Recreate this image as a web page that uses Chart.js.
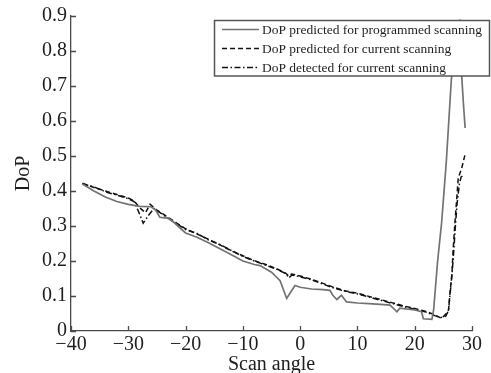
<!DOCTYPE html>
<html>
<head>
<meta charset="utf-8">
<script src="https://cdn.jsdelivr.net/npm/chart.js@4"></script>
<style>
  html, body { margin: 0; padding: 0; background: #fff; }
  #wrap { width: 491px; height: 373px; }
</style>
</head>
<body>
<div id="wrap"><canvas id="dop-chart" width="491" height="373"></canvas></div>
<script>
// DoP vs scan angle
const progX = [-38, -36, -34, -32, -30, -28, -26, -25.2, -24.5, -23, -22, -21, -20, -18, -16, -14, -12, -10, -8, -7, -5, -3.5, -2.35, -1.5, -0.9, 0, 2, 4, 5.2, 5.7, 6.4, 7.2, 8.1, 10, 12, 14, 15.7, 16.9, 17.4, 20, 21.2, 21.5, 23, 23.3, 24, 24.7, 25.5, 26.4, 27.9, 28.2, 28.5, 28.8];
const progY = [0.42, 0.40, 0.383, 0.37, 0.362, 0.356, 0.355, 0.345, 0.325, 0.322, 0.31, 0.295, 0.28, 0.268, 0.252, 0.235, 0.218, 0.2, 0.19, 0.187, 0.168, 0.144, 0.093, 0.115, 0.13, 0.125, 0.12, 0.118, 0.116, 0.102, 0.09, 0.102, 0.083, 0.08, 0.078, 0.076, 0.074, 0.055, 0.065, 0.06, 0.055, 0.035, 0.033, 0.06, 0.2, 0.31, 0.48, 0.72, 0.89, 0.73, 0.65, 0.58];

const predX = [-38, -36, -34, -32, -30, -29, -28, -27, -26.2, -25, -24, -22, -20, -18, -16, -14, -12, -10, -8, -6, -4, -2.5, -2, -1.5, 0, 2, 4, 6, 8, 10, 12, 14, 16, 18, 20, 22, 23.5, 24.7, 25.5, 25.9, 26.2, 26.5, 26.7, 27, 27.3, 27.6, 28.2, 28.8];
const predY = [0.422, 0.41, 0.40, 0.39, 0.38, 0.372, 0.352, 0.338, 0.362, 0.345, 0.335, 0.313, 0.292, 0.277, 0.262, 0.246, 0.229, 0.215, 0.201, 0.19, 0.177, 0.165, 0.157, 0.163, 0.157, 0.148, 0.136, 0.124, 0.114, 0.108, 0.099, 0.09, 0.081, 0.072, 0.064, 0.056, 0.046, 0.036, 0.05, 0.06, 0.116, 0.164, 0.23, 0.305, 0.37, 0.437, 0.465, 0.505];

const detX = [-38, -36, -34, -32, -30, -29, -28.3, -27.4, -26.5, -25.5, -25, -24, -22, -20, -18, -16, -14, -12, -10, -8, -6, -4, -2.4, -2, -1.4, 0, 2, 4, 6, 8, 10, 12, 14, 16, 18, 20, 22, 23.5, 24.5, 25.4, 25.9, 26.2, 26.5, 26.8, 27.1, 27.4, 27.8, 28.1, 28.5];
const detY = [0.42, 0.412, 0.398, 0.388, 0.378, 0.37, 0.345, 0.308, 0.33, 0.35, 0.344, 0.333, 0.311, 0.29, 0.279, 0.26, 0.247, 0.23, 0.213, 0.2, 0.188, 0.176, 0.163, 0.152, 0.16, 0.155, 0.146, 0.134, 0.122, 0.113, 0.106, 0.097, 0.088, 0.079, 0.07, 0.062, 0.054, 0.044, 0.038, 0.042, 0.058, 0.11, 0.16, 0.225, 0.3, 0.365, 0.42, 0.44, 0.445];

const xTicks = [-40, -30, -20, -10, 0, 10, 20, 30];
const yTicks = [0, 0.1, 0.2, 0.3, 0.4, 0.5, 0.6, 0.7, 0.8, 0.9];
const seriesNames = ['DoP predicted for programmed scanning', 'DoP predicted for current scanning', 'DoP detected for current scanning'];

const serif = '"Liberation Serif", "DejaVu Serif", serif';
const ink = '#1e1e1e';
const axisCol = '#4a4a4a';

function pts(xs, ys) {
  return xs.map((x, i) => ({ x: x, y: ys[i] }));
}

const styles = [
  { color: '#727272', dash: [], width: 1.7 },
  { color: '#111', dash: [5, 3], width: 1.5 },
  { color: '#111', dash: [6, 2.5, 1.5, 2.5], width: 1.5 }
];

// inward ticks, like the matlab figure
const innerTicks = {
  id: 'innerTicks',
  afterDraw(chart) {
    const ctx = chart.ctx;
    const xs = chart.scales.x, ys = chart.scales.y;
    const a = chart.chartArea;
    ctx.save();
    ctx.strokeStyle = axisCol;
    ctx.lineWidth = 1.3;
    ctx.beginPath();
    xTicks.forEach(v => {
      const px = Math.round(xs.getPixelForValue(v)) + 0.5;
      ctx.moveTo(px, a.bottom);
      ctx.lineTo(px, a.bottom - 5);
    });
    yTicks.forEach(v => {
      const py = Math.round(ys.getPixelForValue(v)) + 0.5;
      ctx.moveTo(a.left, py);
      ctx.lineTo(a.left + 5, py);
    });
    ctx.stroke();
    ctx.restore();
  }
};

// boxed legend drawn over the lines
const boxLegend = {
  id: 'boxLegend',
  afterDraw(chart) {
    const ctx = chart.ctx;
    const left = 214.5, top = 20.5, w = 275, h = 55.5;
    ctx.save();
    ctx.fillStyle = '#fff';
    ctx.fillRect(left, top, w, h);
    ctx.strokeStyle = '#555';
    ctx.lineWidth = 1.5;
    ctx.setLineDash([]);
    ctx.strokeRect(left, top, w, h);
    // size the text so the longest entry fills the box like the original
    ctx.font = '13px ' + serif;
    const size = 13 * 220 / ctx.measureText(seriesNames[0]).width;
    ctx.font = size.toFixed(2) + 'px ' + serif;
    ctx.textBaseline = 'middle';
    ctx.fillStyle = ink;
    const rows = [29, 48, 67];
    seriesNames.forEach((name, i) => {
      const s = styles[i];
      ctx.strokeStyle = s.color;
      ctx.lineWidth = s.width;
      ctx.setLineDash(s.dash);
      ctx.beginPath();
      ctx.moveTo(222, rows[i] + 0.5);
      ctx.lineTo(259, rows[i] + 0.5);
      ctx.stroke();
      ctx.fillText(name, 262, rows[i] + 1);
    });
    ctx.restore();
  }
};

new Chart(document.getElementById('dop-chart'), {
  type: 'line',
  data: {
    datasets: [
      { label: seriesNames[0], data: pts(progX, progY) },
      { label: seriesNames[1], data: pts(predX, predY) },
      { label: seriesNames[2], data: pts(detX, detY) }
    ].map((d, i) => Object.assign(d, {
      borderColor: styles[i].color,
      borderDash: styles[i].dash,
      borderWidth: styles[i].width,
      pointRadius: 0,
      tension: 0,
      fill: false
    }))
  },
  options: {
    responsive: false,
    animation: false,
    events: [],
    layout: { padding: { top: 13, right: 19, left: 0, bottom: 0 } },
    plugins: { legend: { display: false }, tooltip: { enabled: false } },
    scales: {
      x: {
        type: 'linear',
        min: -40, max: 30,
        afterFit(s) { s.height = 42; },
        afterBuildTicks(s) { s.ticks = xTicks.map(v => ({ value: v })); },
        grid: { display: false, drawTicks: false },
        border: { display: true, color: axisCol, width: 1.3 },
        ticks: {
          color: ink, padding: 2,
          font: { family: serif, size: 20 },
          maxRotation: 0,
          callback: v => String(v).replace('-', '\u2212')
        },
        title: {
          display: true, text: 'Scan angle', color: ink,
          font: { family: serif, size: 20, lineHeight: 0.85 },
          padding: { top: 0, bottom: 0 }
        }
      },
      y: {
        min: 0, max: 0.9,
        afterFit(s) { s.width = 71; },
        afterBuildTicks(s) { s.ticks = yTicks.map(v => ({ value: v })); },
        grid: { display: false, drawTicks: false },
        border: { display: true, color: axisCol, width: 1.3 },
        ticks: {
          color: ink, padding: 4,
          font: { family: serif, size: 20 },
          callback: v => v === 0 ? '0' : v.toFixed(1)
        },
        title: {
          display: true, text: 'DoP', color: ink,
          font: { family: serif, size: 20 },
          padding: { top: 12, bottom: 0 }
        }
      }
    }
  },
  plugins: [innerTicks, boxLegend]
});
</script>
</body>
</html>
